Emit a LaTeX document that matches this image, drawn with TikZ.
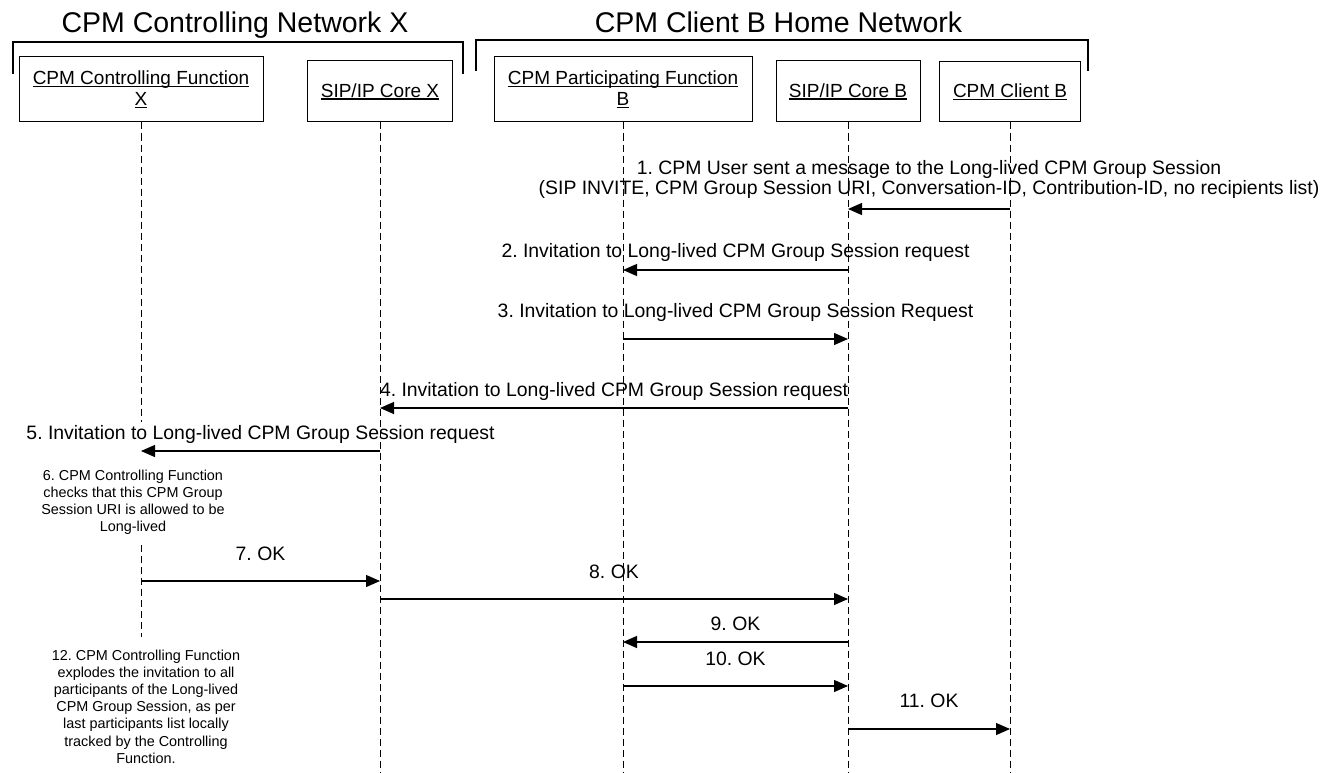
\documentclass[tikz,border=0pt]{standalone}
\usepackage{fontspec}
\setmainfont{Liberation Sans}
\usetikzlibrary{arrows.meta,positioning}
\frenchspacing
\newcommand\undl[1]{\setbox0\hbox{#1}\rlap{\rule[-2.6pt]{\wd0}{1.2pt}}\box0}

\begin{document}
\begin{tikzpicture}[x=1pt,y=-1pt,
	ent/.style={draw,line width=1pt,inner sep=0pt,align=center,font=\fontsize{19}{21}\selectfont},
	life/.style={line width=0.9pt,dash pattern=on 7pt off 4pt},
	msg/.style={line width=1.2pt,-{Triangle[length=14pt,width=12pt]}},
	lbl/.style={inner sep=0pt,text height=14pt,text depth=4pt,font=\fontsize{19.4}{20}\selectfont},
	note/.style={inner sep=0pt,align=center,font=\fontsize{14.4}{17.2}\selectfont},
	net/.style={anchor=base,inner sep=0pt,font=\fontsize{28.5}{34}\selectfont},
	brk/.style={line width=1.4pt}]
		\useasboundingbox (0,0) rectangle (1327,773);
		
		\node[net] (netx) at (235,33) {CPM Controlling Network X};
		\node[net] (netb) at (778.5,33) {CPM Client B Home Network};
		\draw[brk] (13,74) |- (463,42) -- (463,74);
		\draw[brk] (476,71) |- (1088,40) -- (1088,71);
		
		\node[ent,minimum width=244pt,minimum height=65pt] (cfx) at (141,89.5) {\undl{CPM Controlling Function}\\\undl{X}};
		\node[ent,minimum width=145pt,minimum height=61pt] (sipx) at (380,91.5) {\undl{SIP/IP Core X}};
		\node[ent,minimum width=258pt,minimum height=65pt] (pfb) at (623,89.5) {\undl{CPM Participating Function}\\\undl{B}};
		\node[ent,minimum width=144pt,minimum height=61pt] (sipb) at (848,91.5) {\undl{SIP/IP Core B}};
		\node[ent,minimum width=141pt,minimum height=60pt] (clb) at (1010,92) {\undl{CPM Client B}};
		
		\coordinate (bot) at (0,773);
		\coordinate (c1) at (141,422);
		\coordinate (c2) at (141,545);
		\coordinate (c3) at (141,637);
		\draw[life] (cfx.south) -- (c1);
		\draw[life] (c2) -- (c3);
		\foreach \n in {sipx,pfb,sipb,clb}
			\draw[life] (\n.south) -- (\n.south |- bot);
		
		\foreach \i/\y in {1/209,2/270,3/339,4/408,5/451,7/581,8/599,9/642,10/686,11/729}
			\coordinate (m\i) at (0,\y);
		
		\draw[msg] (clb |- m1) -- node[lbl,align=center,text height=,text depth=,above=10pt] {1. CPM User sent a message to the Long-lived CPM Group Session\\(SIP INVITE, CPM Group Session URI, Conversation-ID, Contribution-ID, no recipients list)} (sipb |- m1);
		\draw[msg] (sipb |- m2) -- node[lbl,above=8pt] {2. Invitation to Long-lived CPM Group Session request} (pfb |- m2);
		\draw[msg] (pfb |- m3) -- node[lbl,above=17pt] {3. Invitation to Long-lived CPM Group Session Request} (sipb |- m3);
		\draw[msg] (sipb |- m4) -- node[lbl,above=7pt] {4. Invitation to Long-lived CPM Group Session request} (sipx |- m4);
		\draw[msg] (sipx |- m5) -- node[lbl,above=7pt] {5. Invitation to Long-lived CPM Group Session request} (cfx |- m5);
		\node[note,anchor=north] (n6) at (133,469.5) {6. CPM Controlling Function\\checks that this CPM Group\\Session URI is allowed to be\\Long-lived};
		\draw[msg] (cfx |- m7) -- node[lbl,above=16pt] {7. OK} (sipx |- m7);
		\draw[msg] (sipx |- m8) -- node[lbl,above=16pt] {8. OK} (sipb |- m8);
		\draw[msg] (sipb |- m9) -- node[lbl,above=7pt] {9. OK} (pfb |- m9);
		\draw[msg] (pfb |- m10) -- node[lbl,above=16pt] {10. OK} (sipb |- m10);
		\draw[msg] (sipb |- m11) -- node[lbl,above=17pt] {11. OK} (clb |- m11);
		\node[note,below=12.5pt of c3,xshift=5pt] (n12) {12. CPM Controlling Function\\explodes the invitation to all\\participants of the Long-lived\\CPM Group Session, as per\\last participants list locally\\tracked by the Controlling\\Function.};
\end{tikzpicture}
\end{document}
